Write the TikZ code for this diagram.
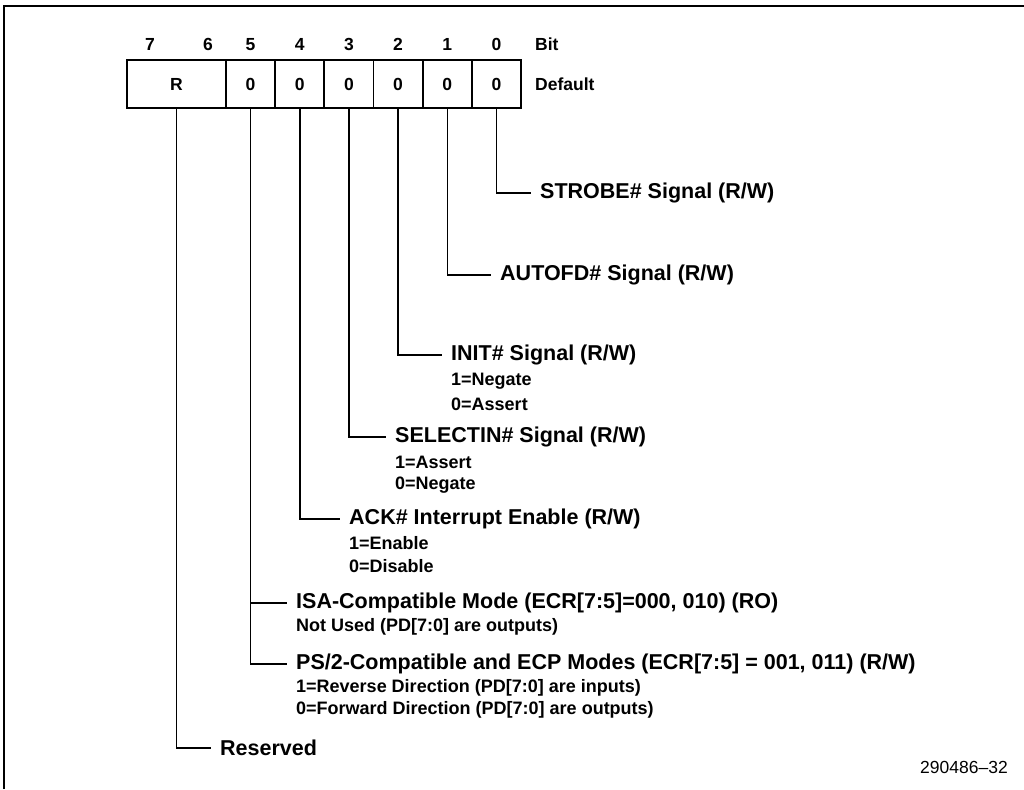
\documentclass[tikz,border=0pt]{standalone}
\usepackage{fontspec}
\setmainfont{Liberation Sans}
\usetikzlibrary{positioning}

\tikzset{
  cell/.style={draw,line width=1.8pt,minimum height=48pt,inner sep=0pt,font=\fontsize{17.5}{20}\selectfont\bfseries},
  bitnum/.style={anchor=base,inner sep=0pt,font=\fontsize{17.5}{20}\selectfont\bfseries},
  field/.style={anchor=west,inner ysep=0pt,inner xsep=9pt,font=\fontsize{21.5}{24}\selectfont\bfseries},
  val/.style={anchor=west,inner ysep=0pt,inner xsep=9pt,font=\fontsize{18}{20}\selectfont\bfseries},
  lead/.style={line width=1.5pt}
}

\begin{document}
\begin{tikzpicture}[x=1pt,y=-1pt]
\useasboundingbox (0,0) rectangle (1024,789);
% frame
\draw[line width=2pt] (3.5,789) -- (3.5,6.5) -- (1024,6.5);

% register
\node[cell,minimum width=99pt] (br) at (176.5,84) {R};
\foreach \b [count=\i] in {5,4,3,2,1,0}
  \node[cell,minimum width=49.17pt] (b\b) at (226+49.17*\i-24.58,84) {0};
\node[bitnum] (n7) at (150,51) {7};
\node[bitnum] (n6) at (208,51) {6};
\foreach \b in {5,4,3,2,1,0}
  \node[bitnum] (n\b) at (b\b |- 0,51) {\b};
\node[bitnum,anchor=base west] (bit) at (535,51) {Bit};
\node[bitnum,anchor=west] (dflt) at (535,84) {Default};

% fields
\node[field] (strobe) at (531,193) {STROBE\# Signal (R/W)};
\node[field] (autofd) at (491,275) {AUTOFD\# Signal (R/W)};
\node[field] (init) at (442,355) {INIT\# Signal (R/W)};
\node[val] (init1) at (442,381) {1=Negate};
\node[val] (init0) at (442,404) {0=Assert};
\node[field] (selin) at (386,437) {SELECTIN\# Signal (R/W)};
\node[val] (selin1) at (386,462) {1=Assert};
\node[val] (selin0) at (386,485) {0=Negate};
\node[field] (ack) at (340,519) {ACK\# Interrupt Enable (R/W)};
\node[val] (ack1) at (340,543) {1=Enable};
\node[val] (ack0) at (340,566) {0=Disable};
\node[field] (isa) at (287,603) {ISA-Compatible Mode (ECR[7:5]=000, 010) (RO)};
\node[val] (isa0) at (287,627) {Not Used (PD[7:0] are outputs)};
\node[field] (ps2) at (287,664) {PS/2-Compatible and ECP Modes (ECR[7:5] = 001, 011) (R/W)};
\node[val] (ps21) at (287,688) {1=Reverse Direction (PD[7:0] are inputs)};
\node[val] (ps20) at (287,710) {0=Forward Direction (PD[7:0] are outputs)};
\node[field] (resv) at (211,748) {Reserved};

% leaders
\draw[lead] (b0.south) |- (strobe.west);
\draw[lead] (b1.south) |- (autofd.west);
\draw[lead] (b2.south) |- (init.west);
\draw[lead] (b3.south) |- (selin.west);
\draw[lead] (b4.south) |- (ack.west);
\draw[lead] (b5.south) |- (ps2.west);
\draw[lead] (b5.south |- isa.west) -- (isa.west);
\draw[lead] (br.south) |- (resv.west);

\node[anchor=east,inner sep=0pt,font=\fontsize{17.5}{20}\selectfont] (fig) at (1008,767) {290486--32};
\end{tikzpicture}
\end{document}
